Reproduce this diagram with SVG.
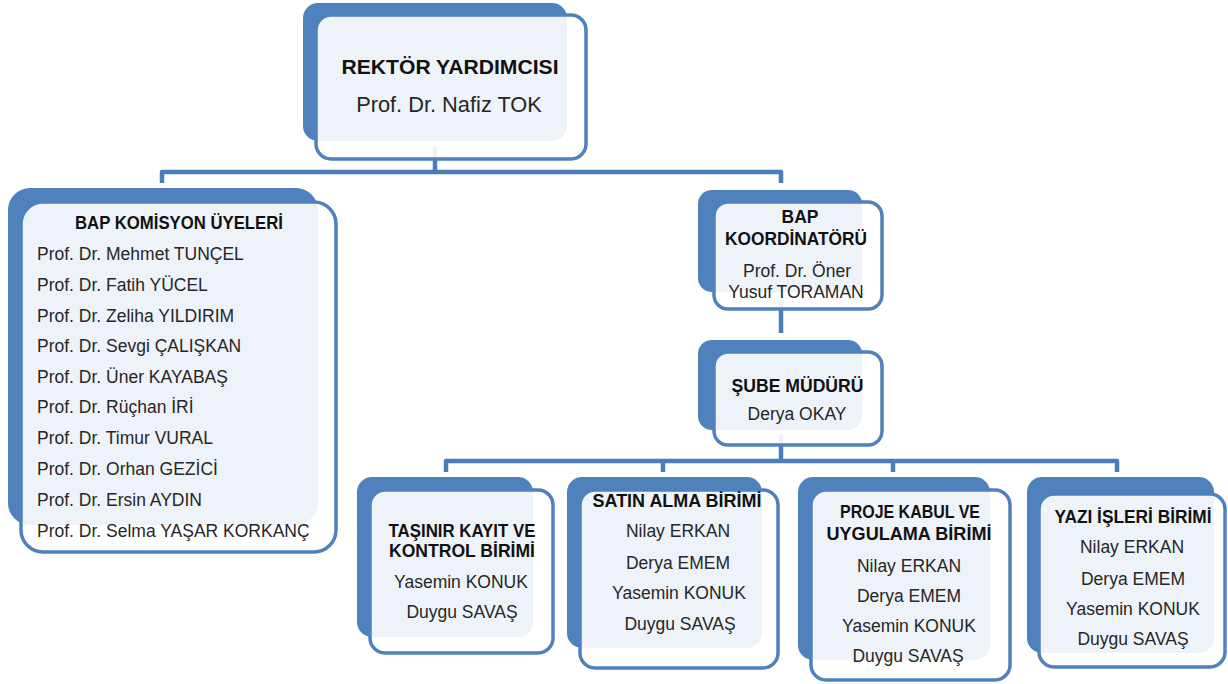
<svg xmlns="http://www.w3.org/2000/svg" width="1228" height="684" viewBox="0 0 1228 684">
<style>
.bk{fill:#4f81bd}
.fr{fill:#ffffff;fill-opacity:0.9;stroke:#4f81bd;stroke-width:3.5}
.ln{fill:none;stroke:#4a7dba;stroke-width:4.5;stroke-linejoin:round}
text{font-family:"Liberation Sans",Arial,sans-serif;fill:#262626;text-anchor:middle}
.b{font-weight:bold;fill:#111111}
.t{font-size:17.5px}
.l{font-size:17.5px;text-anchor:start}
</style>
<rect width="1228" height="684" fill="#ffffff"/>
<g id="connectors">
<path class="ln" d="M435,147 V172"/>
<path class="ln" d="M162,183 V172 H781 V183"/>
<path class="ln" d="M781,300 V333"/>
<path class="ln" d="M781,435 V461"/>
<path class="ln" d="M446,472 V461 H1117 V472"/>
<path class="ln" d="M663,461 V472"/>
<path class="ln" d="M893,461 V472"/>
</g>
<g id="rektor">
<rect class="bk" x="303" y="3" width="264" height="138" rx="15"/>
<rect class="fr" x="316" y="15" width="270" height="144" rx="15"/>
<text class="b" x="450" y="74" font-size="20.5" textLength="217" lengthAdjust="spacingAndGlyphs">REKTÖR YARDIMCISI</text>
<text x="449" y="112" font-size="21.8">Prof. Dr. Nafiz TOK</text>
</g>
<g id="komisyon">
<rect class="bk" x="8" y="188" width="310" height="337" rx="22"/>
<rect class="fr" x="21" y="202" width="315" height="350" rx="22"/>
<text class="b t" x="179" y="229" textLength="208" lengthAdjust="spacingAndGlyphs">BAP KOMİSYON ÜYELERİ</text>
<text class="l" x="37" y="260">Prof. Dr. Mehmet TUNÇEL</text>
<text class="l" x="37" y="291">Prof. Dr. Fatih YÜCEL</text>
<text class="l" x="37" y="322">Prof. Dr. Zeliha YILDIRIM</text>
<text class="l" x="37" y="352">Prof. Dr. Sevgi ÇALIŞKAN</text>
<text class="l" x="37" y="383">Prof. Dr. Üner KAYABAŞ</text>
<text class="l" x="37" y="413">Prof. Dr. Rüçhan İRİ</text>
<text class="l" x="37" y="444">Prof. Dr. Timur VURAL</text>
<text class="l" x="37" y="475">Prof. Dr. Orhan GEZİCİ</text>
<text class="l" x="37" y="506">Prof. Dr. Ersin AYDIN</text>
<text class="l" x="37" y="537">Prof. Dr. Selma YAŞAR KORKANÇ</text>
</g>
<g id="koordinator">
<rect class="bk" x="698" y="190" width="164" height="102" rx="14"/>
<rect class="fr" x="714" y="202" width="168" height="107" rx="14"/>
<text class="b t" x="800" y="223">BAP</text>
<text class="b t" x="796" y="245" textLength="142" lengthAdjust="spacingAndGlyphs">KOORDİNATÖRÜ</text>
<text class="t" x="797" y="277">Prof. Dr. Öner</text>
<text class="t" x="796" y="298">Yusuf TORAMAN</text>
</g>
<g id="sube">
<rect class="bk" x="698" y="340" width="164" height="90" rx="14"/>
<rect class="fr" x="714" y="352" width="168" height="93" rx="14"/>
<text class="b t" x="797.5" y="392" textLength="132" lengthAdjust="spacingAndGlyphs">ŞUBE MÜDÜRÜ</text>
<text class="t" x="797" y="420" font-size="17">Derya OKAY</text>
</g>
<g id="tasinir">
<rect class="bk" x="357" y="477" width="176" height="160" rx="15"/>
<rect class="fr" x="370" y="490" width="183" height="163" rx="15"/>
<text class="b t" x="462" y="537" textLength="147" lengthAdjust="spacingAndGlyphs">TAŞINIR KAYIT VE</text>
<text class="b t" x="462" y="557" textLength="146" lengthAdjust="spacingAndGlyphs">KONTROL BİRİMİ</text>
<text class="t" x="461" y="588">Yasemin KONUK</text>
<text class="t" x="462" y="618">Duygu SAVAŞ</text>
</g>
<g id="satinalma">
<rect class="bk" x="567" y="477" width="195" height="171" rx="15"/>
<rect class="fr" x="580" y="490" width="198" height="178" rx="15"/>
<text class="b t" x="677" y="507" textLength="169" lengthAdjust="spacingAndGlyphs">SATIN ALMA BİRİMİ</text>
<text class="t" x="678" y="537">Nilay ERKAN</text>
<text class="t" x="678" y="569">Derya EMEM</text>
<text class="t" x="679" y="599">Yasemin KONUK</text>
<text class="t" x="680" y="630">Duygu SAVAŞ</text>
</g>
<g id="projekabul">
<rect class="bk" x="798" y="477" width="192" height="183" rx="15"/>
<rect class="fr" x="811" y="490" width="199" height="190" rx="15"/>
<text class="b t" x="910" y="518" textLength="140" lengthAdjust="spacingAndGlyphs">PROJE KABUL VE</text>
<text class="b t" x="909" y="540" textLength="165" lengthAdjust="spacingAndGlyphs">UYGULAMA BİRİMİ</text>
<text class="t" x="909" y="572">Nilay ERKAN</text>
<text class="t" x="909" y="602">Derya EMEM</text>
<text class="t" x="909" y="632">Yasemin KONUK</text>
<text class="t" x="908" y="662">Duygu SAVAŞ</text>
</g>
<g id="yaziisleri">
<rect class="bk" x="1027" y="477" width="187" height="176" rx="15"/>
<rect class="fr" x="1039" y="494" width="186" height="173" rx="15"/>
<text class="b t" x="1133" y="523" textLength="157" lengthAdjust="spacingAndGlyphs">YAZI İŞLERİ BİRİMİ</text>
<text class="t" x="1132" y="553">Nilay ERKAN</text>
<text class="t" x="1133" y="585">Derya EMEM</text>
<text class="t" x="1133" y="615">Yasemin KONUK</text>
<text class="t" x="1133" y="645">Duygu SAVAŞ</text>
</g>
</svg>
